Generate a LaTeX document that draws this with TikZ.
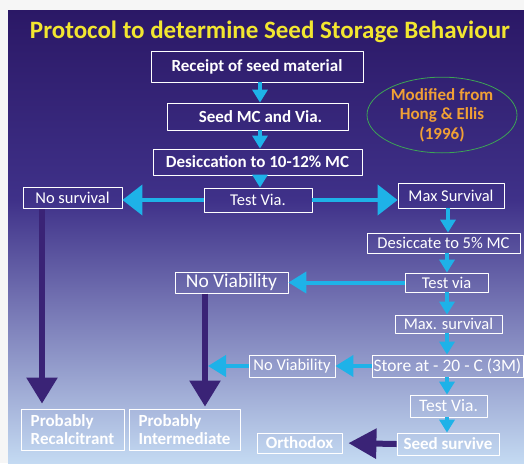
\documentclass[tikz,border=0pt]{standalone}
\usepackage{fontspec}
\setmainfont{Carlito}
\usepackage{tikz}
\usetikzlibrary{arrows.meta, shapes.geometric}

\definecolor{bgtop}{HTML}{2B1866}
\definecolor{bgmid}{HTML}{3F3189}
\definecolor{bgbot}{HTML}{C4DAF2}
\definecolor{titleyellow}{HTML}{F2E630}
\definecolor{notecol}{HTML}{F0A035}
\definecolor{ringgreen}{HTML}{3DA455}
\definecolor{flowcyan}{HTML}{1EB2E8}
\definecolor{flowpurple}{HTML}{3A2376}

\begin{document}
\begin{tikzpicture}[x=1pt, y=-1pt, line join=round,
  box/.style={draw=white, line width=0.8pt, text=white, inner sep=0pt, font=\fontsize{16.5}{17}\selectfont},
  bbox/.style={box, font=\fontsize{17}{17.5}\selectfont\bfseries},
  cyanline/.style={draw=flowcyan, line width=4pt, -{Triangle[length=13pt, width=15pt]}},
  cyanbig/.style={draw=flowcyan, line width=4pt, -{Triangle[length=20pt, width=30pt]}},
  cyanmid/.style={draw=flowcyan, line width=4pt, -{Triangle[length=18pt, width=21pt]}},
  purpleline/.style={draw=flowpurple, line width=5.5pt, -{Triangle[length=26pt, width=30pt]}}]
\useasboundingbox (0,0) rectangle (524,463);
% page and slide background
\fill[white!93!gray] (0,0) rectangle (524,463);
\shade[top color=bgtop, bottom color=bgmid] (8,10) rectangle (524,200);
\shade[top color=bgmid, bottom color=bgbot] (8,200) rectangle (524,463);
\node[text=titleyellow, font=\fontsize{25}{26}\selectfont\bfseries] (title) at (270,32) {Protocol to determine Seed Storage Behaviour};
% main column
\node[bbox, minimum width=212, minimum height=31] (receipt) at (257,66.5) {Receipt of seed material};
\node[bbox, minimum width=181, minimum height=27] (seedmc) at (257.5,116.5) {\hspace{6pt}Seed MC and Via.};
\node[bbox, minimum width=209, minimum height=26] (desic) at (257.5,162) {Desiccation to 10-12\% MC};
\node[box, minimum width=108, minimum height=24] (testvia) at (258,200) {Test Via.};
\node[box, minimum width=99, minimum height=21] (nosurv) at (72.5,197.5) {No survival};
\node[box, minimum width=106, minimum height=25] (maxsurv) at (451,195.5) {Max Survival};
\node[draw=ringgreen, line width=0.8pt, ellipse, minimum width=150, minimum height=62, inner sep=0pt,
  text=notecol, align=center, font=\fontsize{17}{19.5}\selectfont\bfseries] (source) at (442,115) {Modified from\\Hong \& Ellis\\(1996)};
% right column
\node[box, minimum width=153, minimum height=20] (desic5) at (443.5,243) {Desiccate to 5\% MC};
\node[box, minimum width=83, minimum height=19] (testvia2) at (446.5,282.5) {Test via};
\node[box, minimum width=113, minimum height=21, font=\fontsize{19.5}{20}\selectfont] (noviab1) at (231.5,282.5) {No Viability};
\node[box, minimum width=107, minimum height=18] (maxsurv2) at (448.5,324) {Max. survival};
\node[box, minimum width=151, minimum height=22, font=\fontsize{17.5}{18}\selectfont] (store) at (447.5,366) {Store at - 20 - C (3M)};
\node[box, minimum width=86, minimum height=22] (noviab2) at (292,366) {No Viability};
\node[box, minimum width=77, minimum height=22, font=\fontsize{17.5}{18}\selectfont] (testvia3) at (448.5,406) {Test Via.};
\node[bbox, minimum width=102, minimum height=22] (seedsurv) at (448,444) {Seed survive};
\node[bbox, minimum width=85, minimum height=20] (orthodox) at (299.5,443) {Orthodox};
\node[bbox, minimum width=103, minimum height=41, align=left] (probrec) at (72.5,429.5) {Probably\\Recalcitrant};
\node[bbox, minimum width=111, minimum height=41, align=left] (probint) at (184.5,429.5) {Probably\\Intermediate};
\coordinate (recTop) at (42,209);
\coordinate (intTop) at (205,293.5);
\coordinate (intHit) at (208,366);
% flow arrows
\draw[cyanline] (receipt.south -| 260,0) -- (seedmc.north -| 260,0);
\draw[cyanline] (seedmc.south -| 260,0) -- (desic.north -| 260,0);
\draw[cyanline] (desic.south -| 260,0) -- (testvia.north -| 260,0);
\draw[cyanbig] (testvia.west) -- (testvia.west -| nosurv.east);
\draw[cyanbig] (testvia.east) -- (testvia.east -| maxsurv.west);
\draw[cyanline] (maxsurv.south -| 448,0) -- (desic5.north -| 448,0);
\draw[cyanline] (desic5.south -| 447,0) -- (testvia2.north -| 447,0);
\draw[cyanmid] (testvia2.west) -- (noviab1.east);
\draw[cyanline] (testvia2.south -| 447,0) -- (maxsurv2.north -| 447,0);
\draw[cyanline] (maxsurv2.south -| 447,0) -- (store.north -| 447,0);
\draw[cyanline] (store.south -| 447,0) -- (testvia3.north -| 447,0);
\draw[cyanline] (testvia3.south -| 447,0) -- (seedsurv.north -| 447,0);
\draw[cyanmid] (store.west) -- (noviab2.east);
\draw[cyanmid] (noviab2.west) -- (intHit);
% outcomes
\draw[purpleline, shorten >=5pt] (recTop) -- (recTop |- probrec.north);
\draw[purpleline, shorten >=2pt] (intTop) -- (intTop |- probint.north);
\draw[purpleline, line width=6pt, -{Triangle[length=28pt, width=29pt]}, shorten >=6pt] (seedsurv.west) -- (orthodox.east);
\end{tikzpicture}
\end{document}
